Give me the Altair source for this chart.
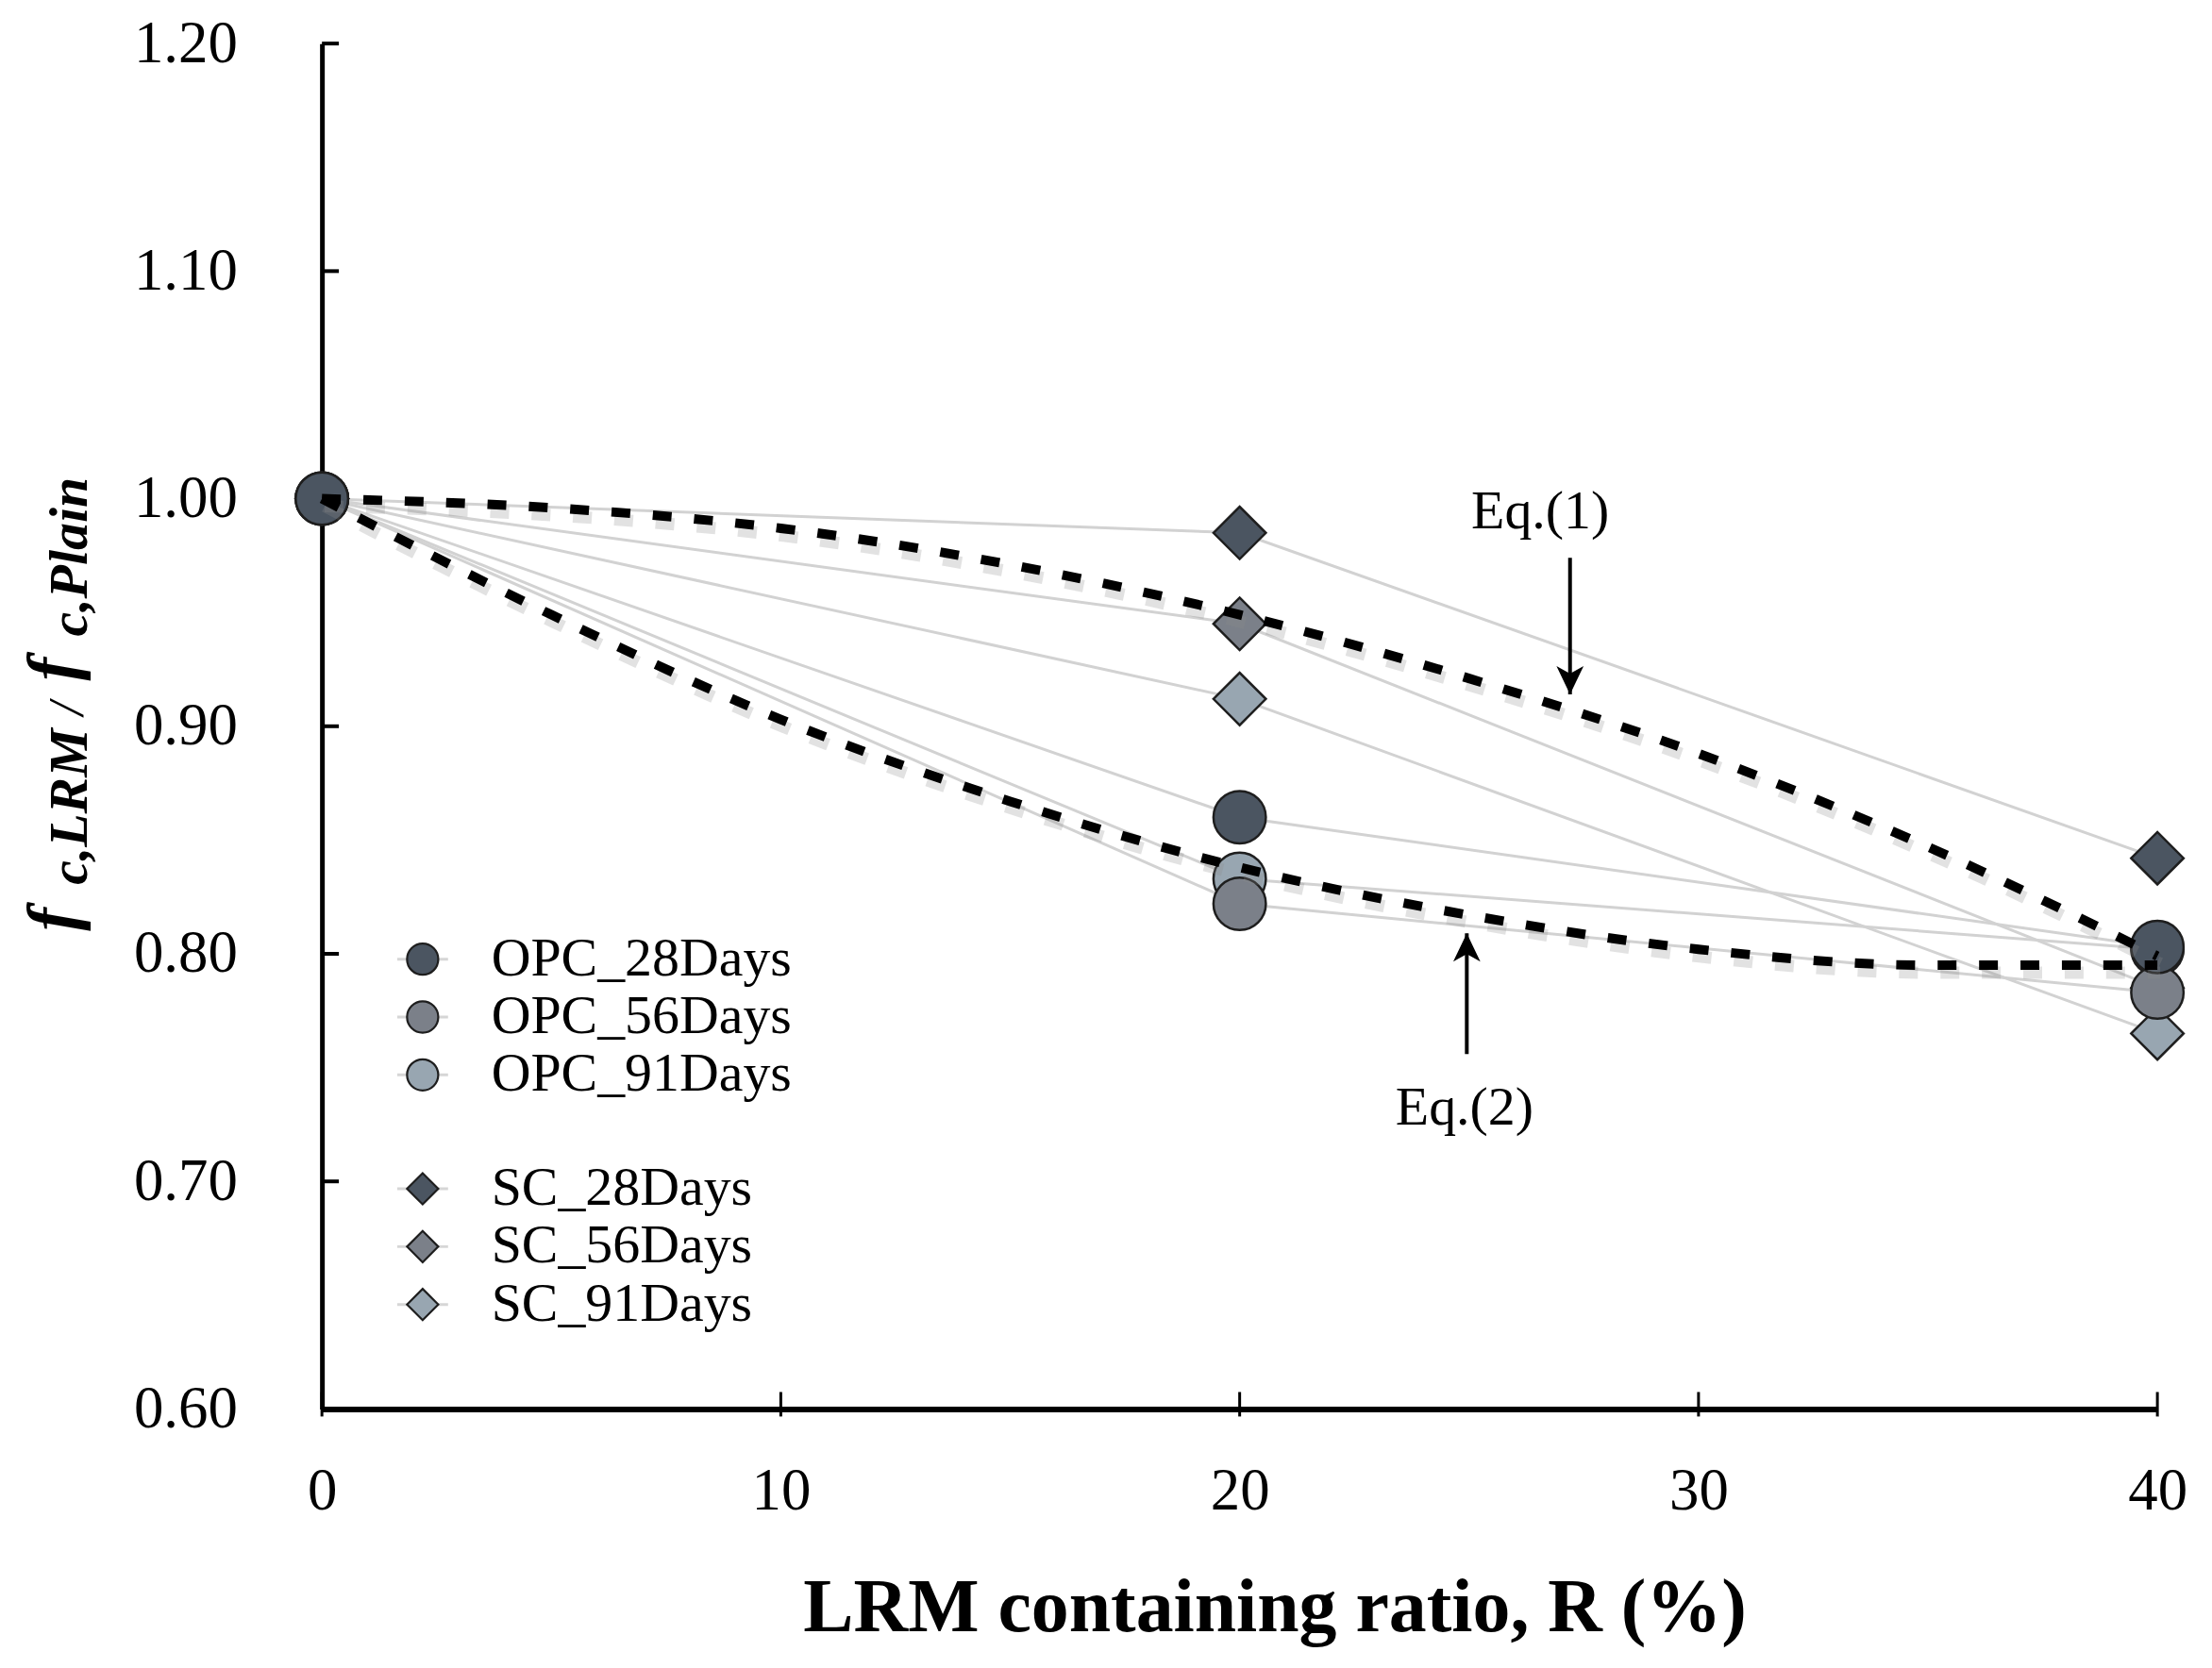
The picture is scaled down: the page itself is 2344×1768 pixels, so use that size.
import altair as alt
import pandas as pd

# ---------------- data ----------------
R_VALUES = [0, 20, 40]
OPC_28 = [1.000, 0.860, 0.803]
OPC_56 = [1.000, 0.822, 0.783]
OPC_91 = [1.000, 0.833, 0.802]
SC_28 = [1.000, 0.985, 0.842]
SC_56 = [1.000, 0.945, 0.785]
SC_91 = [1.000, 0.912, 0.765]

SERIES_NAMES = ["OPC_28Days", "OPC_56Days", "OPC_91Days",
                "SC_28Days", "SC_56Days", "SC_91Days"]
SERIES_VALUES = [OPC_28, OPC_56, OPC_91, SC_28, SC_56, SC_91]
SERIES_SHAPES = ["circle", "circle", "circle", "diamond", "diamond", "diamond"]
SERIES_COLORS = ["#4b5561", "#7b8089", "#98a6b1", "#4b5561", "#7b8089", "#98a6b1"]
DRAW_ORDER = ["SC_91Days", "SC_56Days", "SC_28Days",
              "OPC_91Days", "OPC_56Days", "OPC_28Days"]

EQ_R = [0, 5, 10, 15, 20, 25, 30, 35, 40]
EQ1 = [1.000, 0.996, 0.987, 0.971, 0.949, 0.921, 0.888, 0.847, 0.799]
EQ2 = [1.000, 0.949, 0.903, 0.867, 0.838, 0.817, 0.802, 0.795, 0.795]

EQ_LABELS = ["Eq.(1)", "Eq.(2)"]
EQ_LABEL_R = [26.55, 24.9]
EQ_LABEL_V = [0.994, 0.732]
ARROW_R = [27.2, 24.95]
ARROW_FROM = [0.974, 0.756]
ARROW_TO = [0.914, 0.809]
ARROW_DIR = ["down", "up"]

X_TICKS = [0, 10, 20, 30, 40]
Y_TICKS = [0.6, 0.7, 0.8, 0.9, 1.0, 1.1, 1.2]

# ---------------- layout / style ----------------
TOP = 36
W, H = 1950, 1487 - TOP
FONT = "Liberation Serif"

rows = []
for name in DRAW_ORDER:
    i = SERIES_NAMES.index(name)
    for r, v in zip(R_VALUES, SERIES_VALUES[i]):
        rows.append({"series": name, "R": r, "v": v})
pts = pd.DataFrame(rows)

eq_rows = []
for eq_name, vals in (("Eq1", EQ1), ("Eq2", EQ2)):
    for r, v in zip(EQ_R, vals):
        eq_rows.append({"eq": eq_name, "R": r, "v": v})
eqdf = pd.DataFrame(eq_rows)

xscale = alt.Scale(domain=[0, 40], nice=False, zero=False)
yscale = alt.Scale(domain=[0.6, 1.2], nice=False, zero=False)

xaxis = alt.Axis(values=X_TICKS, format="d", ticks=False, tickSize=0, grid=False,
                 labelPadding=56, labelFontSize=63, labelFont=FONT, labelColor="black",
                 labelFlush=False,
                 domainColor="black", domainWidth=6,
                 title="LRM containing ratio, R (%)", titleFont=FONT, titleFontSize=80,
                 titleFontWeight="bold", titleColor="black", titleX=1012, titleY=236,
                 titleBaseline="alphabetic", titleAlign="center")
yaxis = alt.Axis(values=Y_TICKS, format=".2f", ticks=False, tickSize=0, grid=False,
                 labelPadding=90, labelFontSize=63, labelFont=FONT, labelColor="black",
                 labelFlush=False,
                 domainColor="black", domainWidth=5, title=None)

X = alt.X("R:Q", scale=xscale, axis=xaxis)
Y = alt.Y("v:Q", scale=yscale, axis=yaxis)

color_scale = alt.Scale(domain=SERIES_NAMES, range=SERIES_COLORS)
shape_scale = alt.Scale(domain=SERIES_NAMES, range=SERIES_SHAPES)

# thin grey connecting lines
conn = alt.Chart(pts).mark_line(color="#d2d2d2", strokeWidth=3).encode(
    x=X, y=Y, detail="series:N", order="R:Q")

# markers
markers = alt.Chart(pts).mark_point(filled=True, opacity=1, size=3100,
                                    stroke="#1e1e1e", strokeWidth=2.5).encode(
    x=X, y=Y,
    color=alt.Color("series:N", scale=color_scale, legend=None),
    shape=alt.Shape("series:N", scale=shape_scale, legend=None))

# dashed equation curves with a soft shadow
eq_shadow = alt.Chart(eqdf).mark_line(color="#8c8c8c", opacity=0.25, strokeWidth=13,
                                      strokeDash=[20, 24], interpolate="monotone",
                                      xOffset=3, yOffset=8).encode(
    x=X, y=Y, detail="eq:N")
eq_lines = alt.Chart(eqdf).mark_line(color="black", strokeWidth=10, strokeDash=[20, 24],
                                     interpolate="monotone", strokeCap="butt").encode(
    x=X, y=Y, detail="eq:N")

# arrows and labels
arrdf = pd.DataFrame({"R": ARROW_R, "v": ARROW_FROM, "v2": ARROW_TO, "dir": ARROW_DIR})
shafts = alt.Chart(arrdf).mark_rule(color="black", strokeWidth=4).encode(
    x=X, y=Y, y2="v2:Q")
heads = alt.Chart(arrdf).transform_calculate(vt="datum.v2").mark_point(
    filled=True, opacity=1, color="black", size=1600).encode(
    x=X,
    y=alt.Y("vt:Q", scale=yscale, axis=yaxis),
    shape=alt.Shape("dir:N", legend=None, scale=alt.Scale(
        domain=["down", "up"],
        range=["M0,0L-0.72,-1.5L0,-1.1L0.72,-1.5Z", "M0,0L-0.72,1.5L0,1.1L0.72,1.5Z"])))
labdf = pd.DataFrame({"R": EQ_LABEL_R, "v": EQ_LABEL_V, "t": EQ_LABELS})
labels = alt.Chart(labdf).mark_text(font=FONT, fontSize=58, color="black",
                                    align="center", baseline="middle").encode(
    x=X, y=Y, text="t:N")

# inward tick marks
ytk = alt.Chart(pd.DataFrame({"v": Y_TICKS})).mark_rule(color="black", strokeWidth=4).encode(
    y=Y, x=alt.value(0), x2=alt.value(18))
xtk = alt.Chart(pd.DataFrame({"R": X_TICKS})).mark_rule(color="black", strokeWidth=3).encode(
    x=X, y=alt.value(H - 18), y2=alt.value(H + 8))

# custom legend (pixel offsets relative to the plot's top-left corner)
DY = TOP - 26
leg_rows = []
for i, name in enumerate(SERIES_NAMES):
    group = 0 if i < 3 else 1
    k = i % 3
    leg_rows.append({"name": name, "ly": 983 - DY + group * 244 + k * 61.5})
legdf = pd.DataFrame(leg_rows)
LY = alt.Y("ly:Q", scale=None)
leg_lines = alt.Chart(legdf).mark_rule(color="#d6d6d6", strokeWidth=3).encode(
    y=LY, x=alt.value(80), x2=alt.value(134))
leg_syms = alt.Chart(legdf).mark_point(filled=True, opacity=1, stroke="#1e1e1e",
                                       strokeWidth=2.2).encode(
    y=LY, x=alt.value(107),
    color=alt.Color("name:N", scale=color_scale, legend=None),
    shape=alt.Shape("name:N", scale=shape_scale, legend=None),
    size=alt.Size("name:N", legend=None, scale=alt.Scale(
        domain=SERIES_NAMES, range=[1100, 1100, 1100, 1900, 1900, 1900])))
leg_text = alt.Chart(legdf).mark_text(font=FONT, fontSize=58, color="black",
                                      align="left", baseline="middle").encode(
    y=LY, x=alt.value(180), text="name:N")

# y-axis title built from pieces (subscripts)
def frag(txt, px, py, fs, weight="bold", style="italic"):
    return alt.Chart(alt.Data(values=[{"t": txt}])).mark_text(
        font=FONT, fontSize=fs, fontWeight=weight, fontStyle=style, color="black",
        angle=270, align="left", baseline="alphabetic").encode(
        x=alt.value(px), y=alt.value(py - DY), text="t:N")

ytitle = [
    frag("f", -262, 953, 74),
    frag("c,LRM", -250, 904, 58),
    frag("/", -254, 724, 52, weight="normal"),
    frag("f", -262, 687, 74),
    frag("c,Plain", -250, 640, 58),
]

chart = alt.layer(
    conn, markers, eq_shadow, eq_lines, shafts, heads, labels, ytk, xtk,
    leg_lines, leg_syms, leg_text, *ytitle
).resolve_scale(color="independent", shape="independent", size="independent").properties(
    width=W, height=H,
    autosize=alt.AutoSizeParams(type="none"),
    padding={"left": 334, "top": TOP, "right": 50, "bottom": 265},
    background="white",
).configure_view(stroke=None)

chart.save("out.html", embed_options={"renderer": "svg", "actions": False})
